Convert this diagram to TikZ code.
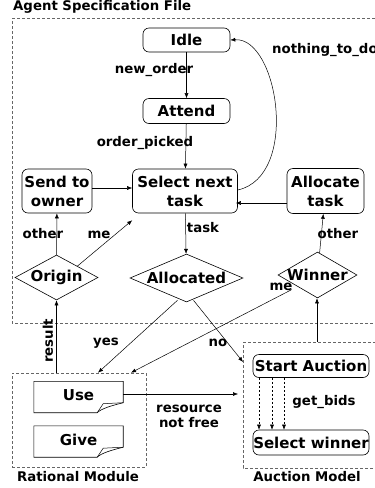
\documentclass[tikz,border=0pt]{standalone}
\usepackage{fontspec}
\setmainfont{DejaVu Sans}
\usetikzlibrary{arrows.meta,shapes.geometric}
\tikzset{
  every node/.style={font=\bfseries},
  statebox/.style={draw, rectangle, rounded corners=6pt, line width=0.6pt, inner sep=0pt, align=center, font=\fontsize{15}{19}\bfseries},
  decision/.style={draw, diamond, line width=0.6pt, inner sep=0pt},
  lab/.style={font=\fontsize{13.3}{16}\bfseries, inner sep=0pt},
  big/.style={font=\fontsize{15}{19}\bfseries, inner sep=0pt},
  group/.style={draw=black!60, dash pattern=on 3pt off 2pt, line width=0.6pt},
  conn/.style={line width=0.5pt, -{Latex[length=5pt,width=4pt]}},
  dconn/.style={line width=0.5pt, dash pattern=on 2.5pt off 1.5pt, -{Latex[length=5pt,width=4pt]}},
  docbox/.style={rectangle, inner sep=0pt, minimum width=89pt, minimum height=31pt}
}
\begin{document}
\begin{tikzpicture}[x=1pt,y=-1pt]
\clip (0,0) rectangle (375,488);
\useasboundingbox (0,0) rectangle (375,488);
% group boxes
\draw[group] (12,18) -- (385,18) -- (385,323) -- (12,323) -- cycle;
\node[lab, anchor=west] (agentlab) at (13,7) {Agent Specification File};
\node[group, rectangle, inner sep=0pt, minimum width=134pt, minimum height=94pt] (rational) at (79,420) {};
\node[lab] (rationallab) at (78,477) {Rational Module};
\draw[group] (243,342) -- (385,342) -- (385,468) -- (243,468) -- cycle;
\coordinate (auctop) at (317,342);
\coordinate (aucwest) at (243,362);
\coordinate (aucwest2) at (243,394);
\node[lab] (auctionlab) at (307,477) {Auction Model};

% states
\node[statebox, minimum width=87pt, minimum height=24pt] (idle) at (186.5,40) {Idle};
\node[statebox, minimum width=87pt, minimum height=25pt] (attend) at (186.5,111) {Attend};
\node[statebox, minimum width=105pt, minimum height=44pt] (select) at (185,191) {Select next\\task};
\node[statebox, minimum width=70pt, minimum height=44pt] (send) at (57,191) {Send to\\owner};
\node[statebox, minimum width=77pt, minimum height=45pt] (alloc) at (325.5,191) {Allocate\\task};

% decisions
\node[decision, minimum width=83pt, minimum height=45pt, label={[big]center:Origin}] (origin) at (56.5,277.5) {};
\node[decision, minimum width=113pt, minimum height=48pt, label={[big]center:Allocated}] (allocd) at (186.5,278) {};
\node[decision, minimum width=79pt, minimum height=46pt, label={[big]center:Winner}] (winner) at (317.5,275) {};

% auction model
\node[statebox, minimum width=116pt, minimum height=23pt] (start) at (311,366) {Start Auction};
\node[statebox, minimum width=116pt, minimum height=25pt] (selw) at (311,442.5) {Select winner};

% documents
\node[docbox, big] (use) at (78.5,397) {\raisebox{3pt}{Use}};
\node[docbox, big] (give) at (78.5,441.5) {\raisebox{3pt}{Give}};
\foreach \d in {use,give}{
  \draw[line width=0.6pt] (\d.north west) -- (\d.north east) -- ([yshift=10pt]\d.south east)
     .. controls ([xshift=-12pt,yshift=7pt]\d.south east) and ([xshift=-22pt,yshift=4pt]\d.south east) .. ([xshift=-26pt]\d.south east)
     -- (\d.south west) -- cycle;
  \draw[line width=0.5pt] ([xshift=-26pt]\d.south east) .. controls ([xshift=-23pt,yshift=5pt]\d.south east) .. ([xshift=-20pt,yshift=9pt]\d.south east)
     -- ([yshift=10pt]\d.south east);
}

% connectors
\draw[conn] (idle) -- (attend);
\node[lab] (lnew) at (154,70) {new\_order};
\draw[conn] (attend) -- (select);
\node[lab] (lorder) at (145,143) {order\_picked};
\draw[conn] ([yshift=1pt]select.east) .. controls (300,176) and (278,37) .. (idle.east);
\node[lab, anchor=west] (lnothing) at (272,50) {nothing\_to\_do};
\draw[conn] ([yshift=3pt]send.east) -- ([yshift=3pt]select.west);
\draw[conn] ([yshift=-12pt]alloc.west) -- ([yshift=-12pt,xshift=-2pt]select.east);
\draw[conn] (select) -- (allocd);
\node[lab] (ltask) at (203,228) {task};
\draw[conn] (origin) -- (send);
\node[lab] (lother1) at (43,234) {other};
\draw[conn] (origin.north east) -- ([yshift=-7pt]select.south west);
\node[lab] (lme1) at (99,235) {me};
\draw[conn] (winner) -- (alloc);
\node[lab] (lother2) at (338,234) {other};
\draw[conn] ([xshift=-6pt,yshift=-3pt]winner.south west) -- ([xshift=52pt]rational.north);
\node[lab] (lme2) at (281,287) {me};
\draw[conn] ([xshift=-9pt,yshift=2pt]allocd.south) -- ([xshift=19pt]rational.north);
\node[lab] (lyes) at (106,343) {yes};
\draw[conn] ([xshift=7pt,yshift=2pt]allocd.south) -- (aucwest);
\node[lab] (lno) at (218,343) {no};
\draw[conn] ([yshift=3pt]use.east) -- ([xshift=-5pt]aucwest2);
\node[lab, align=center, font=\fontsize{13.3}{15}\bfseries] (lres) at (189,416) {resource\\not free};
\draw[conn] (auctop) -- ([xshift=-0.5pt]winner.south);
\draw[conn] (rational.north -| origin.south) -- (origin.south);
\node[lab, rotate=90] (lresult) at (48,341) {result};
\foreach \dx in {-52,-39,-27}{
  \draw[dconn] ([xshift=\dx pt]start.south) -- ([xshift=\dx pt]selw.north);
}
\node[lab] (lbids) at (324,402) {get\_bids};
\end{tikzpicture}
\end{document}
